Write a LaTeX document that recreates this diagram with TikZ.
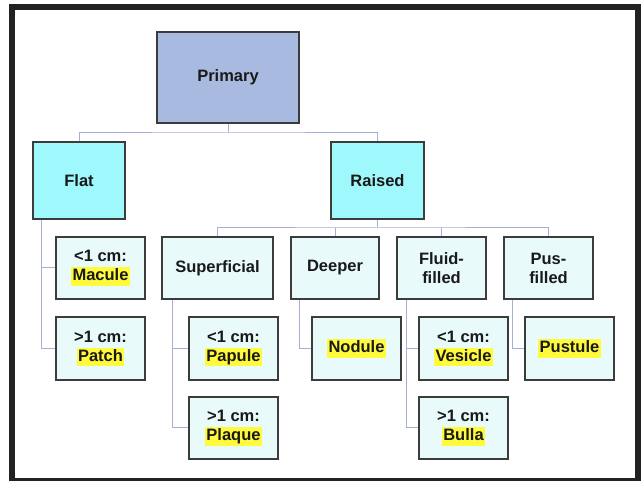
\documentclass[tikz,border=0pt]{standalone}
\usepackage{fontspec}
\setmainfont{Liberation Sans}
\definecolor{primfill}{RGB}{169,186,224}
\definecolor{lvlone}{RGB}{158,248,252}
\definecolor{lvltwo}{RGB}{232,250,250}
\definecolor{hly}{RGB}{255,250,60}
\definecolor{conn}{RGB}{165,175,215}
\definecolor{boxline}{RGB}{60,60,60}
\definecolor{framecol}{RGB}{34,34,34}
\newcommand{\hlt}[1]{{\setlength{\fboxsep}{1.5pt}\colorbox{hly}{\rule[-.2em]{0pt}{.92em}#1}}}
\tikzset{
  box/.style={draw=boxline, line width=1.2pt, font=\bfseries\fontsize{16.5}{19}\selectfont, align=center, inner sep=0pt, text=black!90},
  prim/.style={box, fill=primfill, minimum width=142pt, minimum height=91pt},
  lone/.style={box, fill=lvlone, minimum width=92pt, minimum height=77pt},
  ltwo/.style={box, fill=lvltwo, minimum width=89pt, minimum height=62pt},
  link/.style={draw=conn, line width=1pt},
}
\begin{document}
\begin{tikzpicture}[x=1pt,y=-1pt]
\useasboundingbox (0,0) rectangle (641,481);
\fill[white] (0,0) rectangle (641,481);
\draw[framecol, line width=6pt] (12,7) rectangle (638,481);

% nodes
\node[prim] (primary) at (228,77.5) {Primary};
\node[lone] (flat) at (79,180.5) {Flat};
\node[lone, minimum width=93pt] (raised) at (377.5,180.5) {Raised};

\node[ltwo] (macule) at (100.5,268) {<1 cm:\\\hlt{Macule}};
\node[ltwo, minimum width=111pt] (superficial) at (217.5,268) {Superficial};
\node[ltwo, minimum width=88pt] (deeper) at (335,268) {Deeper};
\node[ltwo] (fluid) at (441.5,268) {Fluid-\\filled};
\node[ltwo] (pus) at (548.5,268) {Pus-\\filled};

\node[ltwo, minimum height=63pt] (patch) at (100.5,348.5) {>1 cm:\\\hlt{Patch}};
\node[ltwo, minimum height=63pt] (papule) at (233.5,348.5) {<1 cm:\\\hlt{Papule}};
\node[ltwo, minimum height=63pt] (nodule) at (356.5,348.5) {\hlt{Nodule}};
\node[ltwo, minimum height=63pt] (vesicle) at (463.5,348.5) {<1 cm:\\\hlt{Vesicle}};
\node[ltwo, minimum height=63pt] (pustule) at (569.5,348.5) {\hlt{Pustule}};

\node[ltwo] (plaque) at (233.5,428) {>1 cm:\\\hlt{Plaque}};
\node[ltwo] (bulla) at (463.5,428) {>1 cm:\\\hlt{Bulla}};

% junctions
\coordinate (j1) at (228,133);
\coordinate (j2) at (377.5,228);

% connectors
\begin{scope}[on background layer/.try]
\path[link] (primary.south) -- (j1);
\path[link] (flat.north) |- (j1) -| (raised.north);
\path[link] (raised.south) -- (j2);
\path[link] (superficial.north) |- (j2) -| (pus.north);
\path[link] (deeper.north) -- (deeper.north |- j2);
\path[link] (fluid.north) -- (fluid.north |- j2);

\path[link] ([xshift=9pt]flat.south west) |- (patch.west);
\path[link] ([xshift=9pt]flat.south west |- macule.west) -- (macule.west);
\path[link] ([xshift=11pt]superficial.south west) |- (plaque.west);
\path[link] ([xshift=11pt]superficial.south west |- papule.west) -- (papule.west);
\path[link] ([xshift=9pt]deeper.south west) |- (nodule.west);
\path[link] ([xshift=10pt]fluid.south west) |- (bulla.west);
\path[link] ([xshift=10pt]fluid.south west |- vesicle.west) -- (vesicle.west);
\path[link] ([xshift=9pt]pus.south west) |- (pustule.west);
\end{scope}
\end{tikzpicture}
\end{document}
